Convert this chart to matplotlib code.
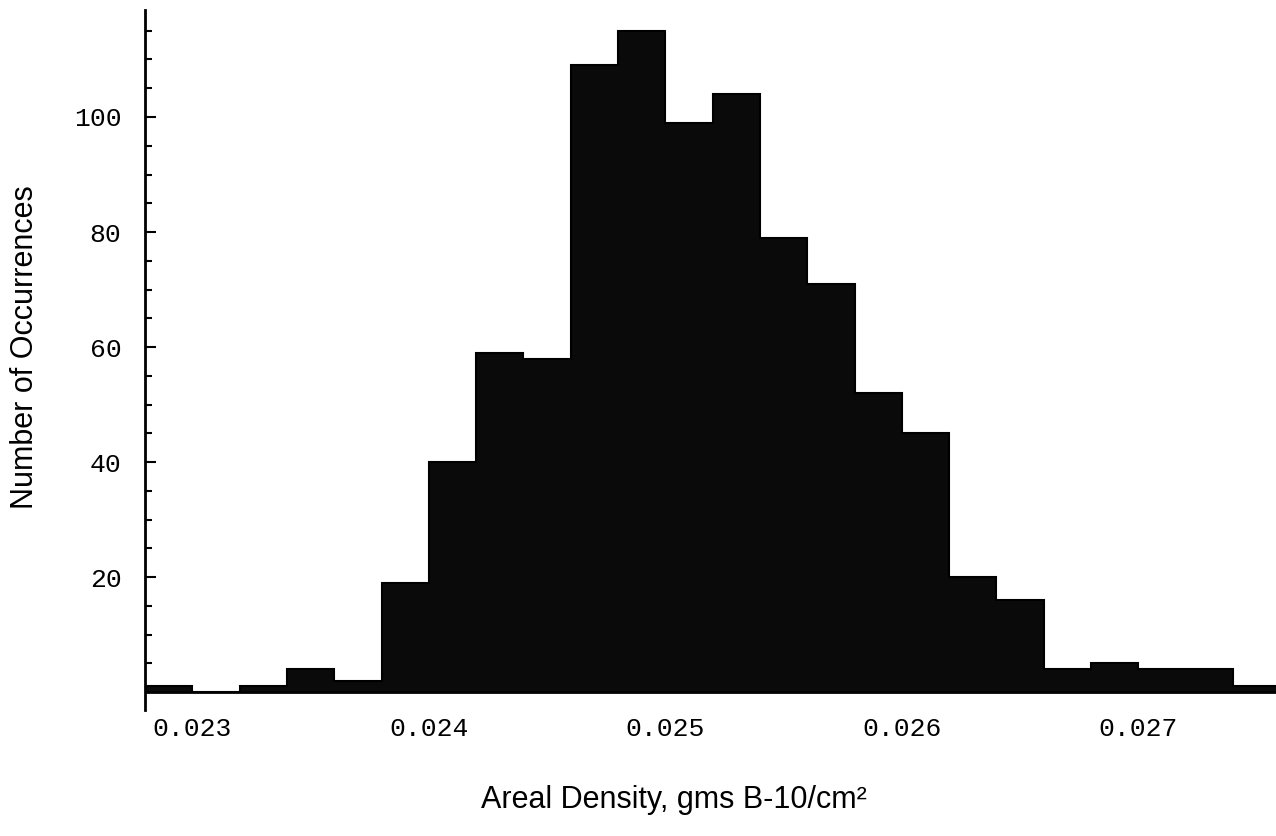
"""Histogram of areal density (B-10) measurements, scanned-report style."""
import numpy as np
import matplotlib
matplotlib.use("Agg")
import matplotlib.pyplot as plt
from matplotlib.ticker import MultipleLocator, FixedLocator

# --- data ---
bin_start = 0.0228
bin_width = 0.0002
counts = [1, 0, 1, 4, 2, 19, 40, 59, 58, 109, 115, 99,
          104, 79, 71, 52, 45, 20, 16, 4, 5, 4, 4, 1]
x_ticks = [0.023, 0.024, 0.025, 0.026, 0.027]
x_ticklabels = ["0.023", "0.024", "0.025", "0.026", "0.027"]
y_ticks = [20, 40, 60, 80, 100]

edges = bin_start + bin_width * np.arange(len(counts) + 1)

MONO = "Liberation Mono"
SANS = "Liberation Sans"

fig = plt.figure(figsize=(12.76, 8.36), dpi=100)
ax = fig.add_axes([145 / 1276, 126 / 836, 1 - 145 / 1276, 700 / 836])

ax.stairs(counts, edges, fill=True, color="#0a0a0a", edgecolor="black", lw=1.5)
ax.axhline(0, color="black", lw=2, zorder=3)

ax.set_xlim(0.0228, 0.027582)
ax.set_ylim(-3.1, 118.6)

# axes look: only the left spine, ticks pointing inward
for side in ("top", "right", "bottom"):
    ax.spines[side].set_visible(False)
ax.spines["left"].set_linewidth(2)

ax.xaxis.set_major_locator(FixedLocator(x_ticks))
ax.set_xticklabels(x_ticklabels, fontfamily=MONO, fontsize=19)
ax.tick_params(axis="x", length=0, pad=5)

ax.yaxis.set_major_locator(FixedLocator(y_ticks))
ax.yaxis.set_minor_locator(MultipleLocator(5))
ax.set_yticklabels([str(v) for v in y_ticks], fontfamily=MONO, fontsize=19)
ax.tick_params(axis="y", which="major", direction="in", length=8, width=1.5, pad=17)
ax.tick_params(axis="y", which="minor", direction="in", length=5, width=1.5)

ax.set_xlabel("Areal Density, gms B-10/cm²", fontfamily=SANS, fontsize=22)
ax.xaxis.set_label_coords(0.468, -0.107)
ax.set_ylabel("Number of Occurrences", fontfamily=SANS, fontsize=22)
ax.yaxis.set_label_coords(-0.093, 0.519)

fig.savefig("out.png", dpi=100)
